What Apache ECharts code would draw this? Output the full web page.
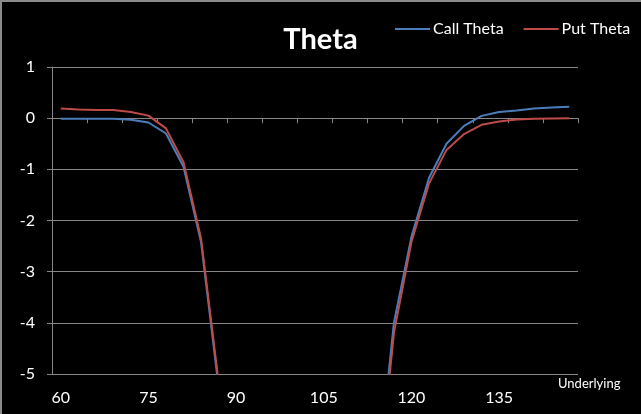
<!DOCTYPE html>
<html>
<head>
<meta charset="utf-8">
<script src="https://cdn.jsdelivr.net/npm/echarts@6/dist/echarts.min.js"></script>
<style>
html,body{margin:0;padding:0;background:#000;}
#wrap{position:relative;width:641px;height:414px;}
#chart{width:641px;height:414px;}
#frame{position:absolute;left:0;top:0;width:639px;height:412px;border-top:2px solid #8a8a8a;border-left:2px solid #8a8a8a;pointer-events:none;}
</style>
</head>
<body>
<div id="wrap"><div id="chart"></div><div id="frame"></div></div>
<script>
const categories = ['60','63','66','69','72','75','78','81','84','87','90','93','96','99','102','105','108','111','114','117','120','123','126','129','132','135','138','141','144','147'];
const callTheta = [-0.01,-0.01,-0.01,-0.01,-0.03,-0.085,-0.3,-0.95,-2.42,-5.25,-8.5,-10.5,-11.5,-12,-12.2,-12,-11.5,-10,-7.3,-4.0,-2.32,-1.17,-0.5,-0.15,0.045,0.12,0.15,0.19,0.21,0.225];
const putTheta = [0.19,0.17,0.16,0.16,0.12,0.05,-0.2,-0.86,-2.35,-5.15,-8.4,-10.4,-11.4,-11.9,-12.1,-11.9,-11.4,-9.9,-7.6,-4.2,-2.42,-1.28,-0.62,-0.31,-0.13,-0.065,-0.025,-0.01,-0.005,0];
const yTicks = {min:-5, max:1, interval:1};

const gray = '#868686';
const font = 'Lato, "Open Sans", sans-serif';
const chart = echarts.init(document.getElementById('chart'));
chart.setOption({
  backgroundColor:'#000',
  animation:false,
  title:{text:'Theta', left:'center', top:20, textStyle:{color:'#fff', fontFamily:font, fontWeight:'bold', fontSize:29}},
  legend:{left:390, top:16, itemGap:20, itemWidth:35, itemHeight:2, icon:'rect',
    textStyle:{color:'#fff', fontFamily:font, fontSize:16, padding:[0,0,0,-2]}},
  grid:{left:52, right:63, top:67, bottom:40, containLabel:false},
  xAxis:[
    {type:'category', data:categories, boundaryGap:true, position:'bottom',
     axisLine:{onZero:true, lineStyle:{color:gray, width:1}},
     axisTick:{show:true, length:5, lineStyle:{color:gray}},
     axisLabel:{show:false}, splitLine:{show:false}},
    {type:'category', data:categories, boundaryGap:true, position:'bottom',
     axisLine:{show:false, onZero:false}, axisTick:{show:false},
     axisLabel:{show:true, interval:4, margin:16, color:'#fff', fontFamily:font, fontSize:16},
     splitLine:{show:false}}
  ],
  yAxis:{type:'value', min:yTicks.min, max:yTicks.max, interval:yTicks.interval,
    axisLine:{show:true, lineStyle:{color:gray}},
    axisTick:{show:true, length:5, lineStyle:{color:gray}},
    axisLabel:{color:'#fff', fontFamily:font, fontSize:16, margin:17},
    splitLine:{show:true, lineStyle:{color:gray, width:1}}},
  graphic:[{type:'text', left:558, top:377, style:{text:'Underlying', fill:'#fff', font:'13px Lato, sans-serif'}}],
  series:[
    {name:'Call Theta', type:'line', xAxisIndex:0, data:callTheta, symbol:'none', clip:true, lineStyle:{color:'#4a7ebb', width:2}, itemStyle:{color:'#4a7ebb'}},
    {name:'Put Theta', type:'line', xAxisIndex:0, data:putTheta, symbol:'none', clip:true, lineStyle:{color:'#be4b48', width:2}, itemStyle:{color:'#be4b48'}}
  ]
});
</script>
</body>
</html>
